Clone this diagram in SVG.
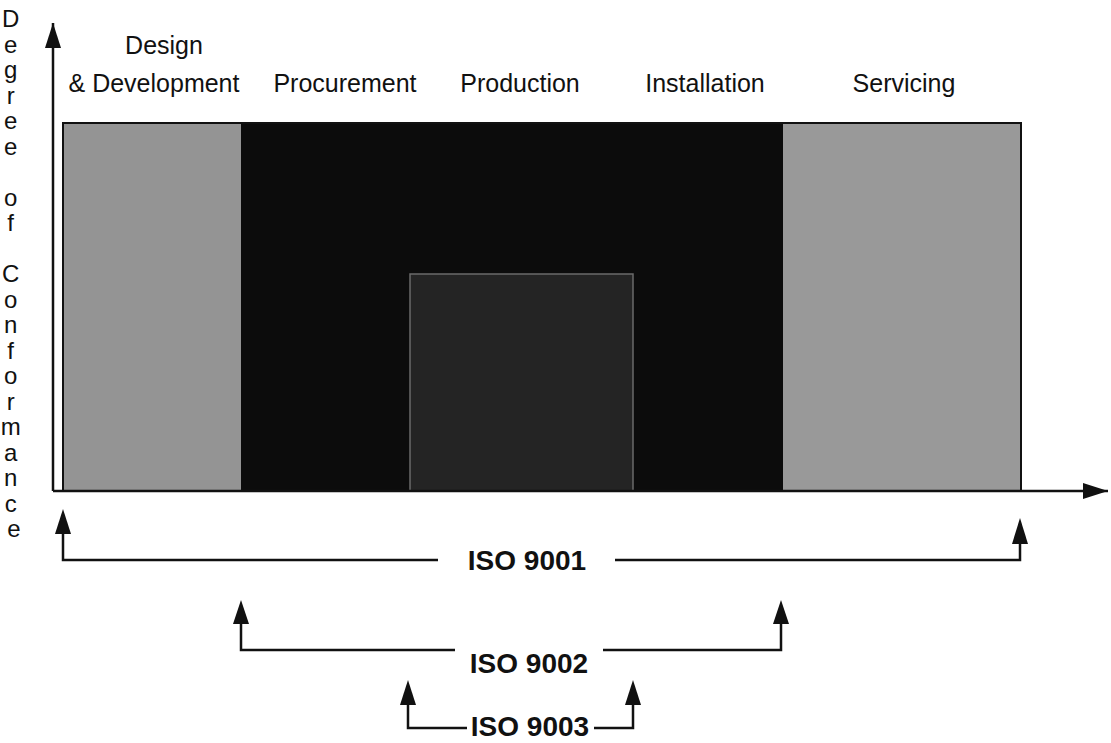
<svg xmlns="http://www.w3.org/2000/svg" width="1111" height="743" viewBox="0 0 1111 743">
<style>
.lbl{font-family:"Liberation Sans",Arial,sans-serif;font-size:25px;fill:#111}
.iso{font-family:"Liberation Sans",Arial,sans-serif;font-size:28px;font-weight:bold;fill:#111}
.vl{font-family:"Liberation Sans",Arial,sans-serif;font-size:24px;fill:#111}
.ln{stroke:#111;stroke-width:2.5;fill:none}
.hd{fill:#111}
</style>
<defs>
<marker id="ahb" viewBox="0 0 25 16" refX="25" refY="8" markerWidth="25" markerHeight="16" markerUnits="userSpaceOnUse" orient="auto">
<path d="M0,0 L25,8 L0,16 Z" fill="#111"/>
</marker>
</defs>
<rect width="1111" height="743" fill="#fff"/>

<g id="phases">
<rect id="design" x="63" y="123" width="178" height="368" fill="#949494"/>
<rect id="middle" x="241" y="123" width="542" height="368" fill="#0c0c0c"/>
<rect id="production-core" x="410" y="274" width="223" height="217" fill="#242424" stroke="#6a6a6a" stroke-width="1.5"/>
<rect id="servicing" x="783" y="123" width="238" height="368" fill="#999999"/>
<rect x="63" y="123" width="958" height="368" fill="none" stroke="#111" stroke-width="2"/>
</g>

<g id="axes">
<line class="ln" x1="53" y1="491" x2="53" y2="23" marker-end="url(#ahb)"/>
<line class="ln" x1="53" y1="491" x2="1108" y2="491" marker-end="url(#ahb)"/>
</g>

<g id="y-label">
<text class="vl" text-anchor="middle">
<tspan x="14" y="27">D</tspan>
<tspan x="14" y="52.5">e</tspan>
<tspan x="14" y="78">g</tspan>
<tspan x="14" y="103.5">r</tspan>
<tspan x="14" y="129">e</tspan>
<tspan x="14" y="154.5">e</tspan>
<tspan x="14" y="205.5">o</tspan>
<tspan x="14" y="231">f</tspan>
<tspan x="14" y="282">C</tspan>
<tspan x="14" y="307.5">o</tspan>
<tspan x="14" y="333">n</tspan>
<tspan x="14" y="358.5">f</tspan>
<tspan x="14" y="384">o</tspan>
<tspan x="14" y="409.5">r</tspan>
<tspan x="14" y="435">m</tspan>
<tspan x="14" y="460.5">a</tspan>
<tspan x="14" y="486">n</tspan>
<tspan x="14" y="511.5">c</tspan>
<tspan x="14" y="537">e</tspan>
</text>
</g>

<g id="phase-labels">
<text class="lbl" x="164" y="54" text-anchor="middle">Design</text>
<text class="lbl" x="154" y="92" text-anchor="middle">&amp; Development</text>
<text class="lbl" x="345" y="92" text-anchor="middle">Procurement</text>
<text class="lbl" x="520" y="92" text-anchor="middle">Production</text>
<text class="lbl" x="705" y="92" text-anchor="middle">Installation</text>
<text class="lbl" x="904" y="92" text-anchor="middle">Servicing</text>
</g>

<g id="connectors">
<path class="ln" d="M438,560 H63 V520"/>
<path class="hd" d="M55,534 L63,509 L71,534 Z"/>
<path class="ln" d="M615,560 H1020 V530"/>
<path class="hd" d="M1012,544 L1020,518 L1028,544 Z"/>

<path class="ln" d="M455,650 H241 V610"/>
<path class="hd" d="M233,624 L241,600 L249,624 Z"/>
<path class="ln" d="M603,650 H781 V610"/>
<path class="hd" d="M773,624 L781,600 L789,624 Z"/>

<path class="ln" d="M467,728 H408 V690"/>
<path class="hd" d="M400,705 L408,680 L416,705 Z"/>
<path class="ln" d="M594,728 H633 V690"/>
<path class="hd" d="M625,705 L633,680 L641,705 Z"/>
</g>

<g id="iso9001"><text class="iso" x="527" y="570" text-anchor="middle">ISO 9001</text></g>
<g id="iso9002"><text class="iso" x="529" y="673" text-anchor="middle">ISO 9002</text></g>
<g id="iso9003"><text class="iso" x="530" y="736" text-anchor="middle">ISO 9003</text></g>
</svg>
